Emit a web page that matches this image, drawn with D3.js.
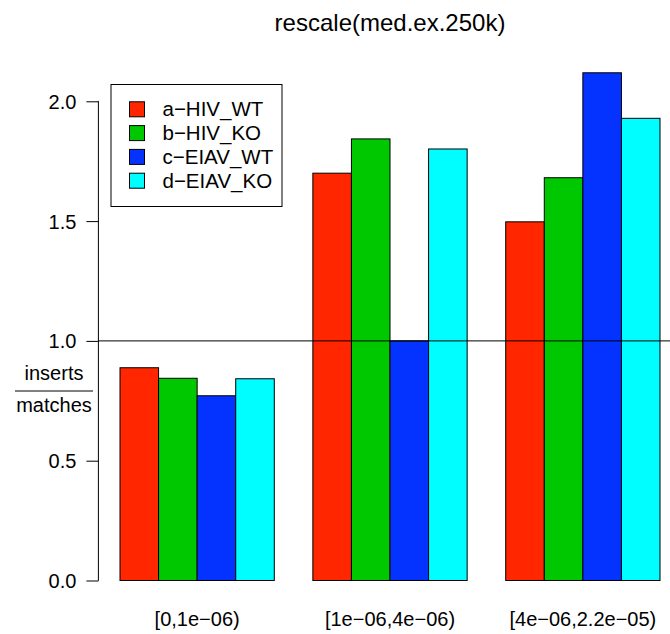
<!DOCTYPE html>
<html>
<head>
<meta charset="utf-8">
<script src="https://cdn.jsdelivr.net/npm/d3@7"></script>
<style>
  body { margin: 0; background: #fff; }
  svg { display: block; font-family: "Liberation Sans", Arial, Helvetica, sans-serif; }
</style>
</head>
<body>
<svg id="chart" width="670" height="634"></svg>
<script>
const categories = ["[0,1e\u221206)", "[1e\u221206,4e\u221206)", "[4e\u221206,2.2e\u221205)"];
const seriesNames = ["a\u2212HIV_WT", "b\u2212HIV_KO", "c\u2212EIAV_WT", "d\u2212EIAV_KO"];
const seriesColors = ["#ff2600", "#00c800", "#0433ff", "#00fdff"];
// values per series, one per category
const values = [
  [0.888, 1.700, 1.497],
  [0.844, 1.843, 1.681],
  [0.771, 1.000, 2.119],
  [0.842, 1.801, 1.929]
];
const yTicks = [0, 0.5, 1, 1.5, 2];
const refLine = 1;

const svg = d3.select("#chart");
const width = 670;

// R barplot style layout: each bar 1 unit, 1 unit gap before each group
const x = d3.scaleLinear().domain([0.44, 15.56]).range([98.4, 681.6]);
const y = d3.scaleLinear().domain([0, 2]).range([580.5, 101.3]);

const barX = (gi, si) => 1 + gi * 5 + si;

svg.append("defs").append("clipPath").attr("id", "plotclip")
  .append("rect").attr("x", x(0.44)).attr("y", 0).attr("width", width).attr("height", 634);

// bars
const bars = [];
values.forEach((vals, si) => vals.forEach((v, gi) => bars.push({ si, gi, v })));

svg.append("g")
  .selectAll("rect")
  .data(bars)
  .join("rect")
  .attr("x", (d) => x(barX(d.gi, d.si)))
  .attr("width", (d) => x(barX(d.gi, d.si) + 1) - x(barX(d.gi, d.si)))
  .attr("y", (d) => y(d.v))
  .attr("height", (d) => y(0) - y(d.v))
  .attr("fill", (d) => seriesColors[d.si])
  .attr("stroke", "#000")
  .attr("stroke-width", 1);

// reference line
svg.append("line")
  .attr("clip-path", "url(#plotclip)")
  .attr("x1", x(0.44)).attr("x2", x(15.56))
  .attr("y1", y(refLine)).attr("y2", y(refLine))
  .attr("stroke", "#000").attr("stroke-width", 1);

// y axis
const yAxis = d3.axisLeft(y).tickValues(yTicks).tickFormat(d3.format(".1f")).tickSize(12).tickPadding(10);
svg.append("g")
  .attr("transform", `translate(${x(0.44)},0)`)
  .call(yAxis)
  .call((g) => g.select(".domain").attr("d", `M-0.5,${y(0)}H0V${y(2)}H-0.5`).attr("stroke", "#000"))
  .call((g) => g.selectAll(".tick line").attr("stroke", "#000"))
  .call((g) => g.selectAll(".tick text").attr("fill", "#000").style("font-size", "20px").attr("dy", "0.35em"));

// category labels
svg.append("g")
  .selectAll("text")
  .data(categories)
  .join("text")
  .attr("x", (d, i) => x(1 + i * 5 + 2))
  .attr("y", 626)
  .attr("text-anchor", "middle")
  .style("font-size", "20px")
  .text((d) => d);

// y label as fraction
const yl = svg.append("g").attr("transform", "translate(54,0)");
yl.append("text").attr("x", 0).attr("y", 380).attr("text-anchor", "middle").style("font-size", "20px").text("inserts");
yl.append("line").attr("x1", -39).attr("x2", 39).attr("y1", 391).attr("y2", 391).attr("stroke", "#000");
yl.append("text").attr("x", 0).attr("y", 412).attr("text-anchor", "middle").style("font-size", "20px").text("matches");

// title
svg.append("text")
  .attr("x", (x(0.44) + x(15.56)) / 2)
  .attr("y", 30.5)
  .attr("text-anchor", "middle")
  .style("font-size", "24px")
  .text("rescale(med.ex.250k)");

// legend
const legend = svg.append("g");
legend.append("rect")
  .attr("x", 111).attr("y", 84.5).attr("width", 171).attr("height", 122)
  .attr("fill", "#fff").attr("stroke", "#000");
const rows = legend.selectAll("g.row").data(seriesNames).join("g")
  .attr("class", "row")
  .attr("transform", (d, i) => `translate(0,${109.3 + i * 23.8})`);
rows.append("rect")
  .attr("x", 129.5).attr("y", -7.5).attr("width", 15).attr("height", 15)
  .attr("fill", (d, i) => seriesColors[i]).attr("stroke", "#000");
rows.append("text")
  .attr("x", 162.5).attr("y", 0).attr("dy", "0.35em")
  .style("font-size", "20.5px")
  .text((d) => d);
</script>
</body>
</html>
